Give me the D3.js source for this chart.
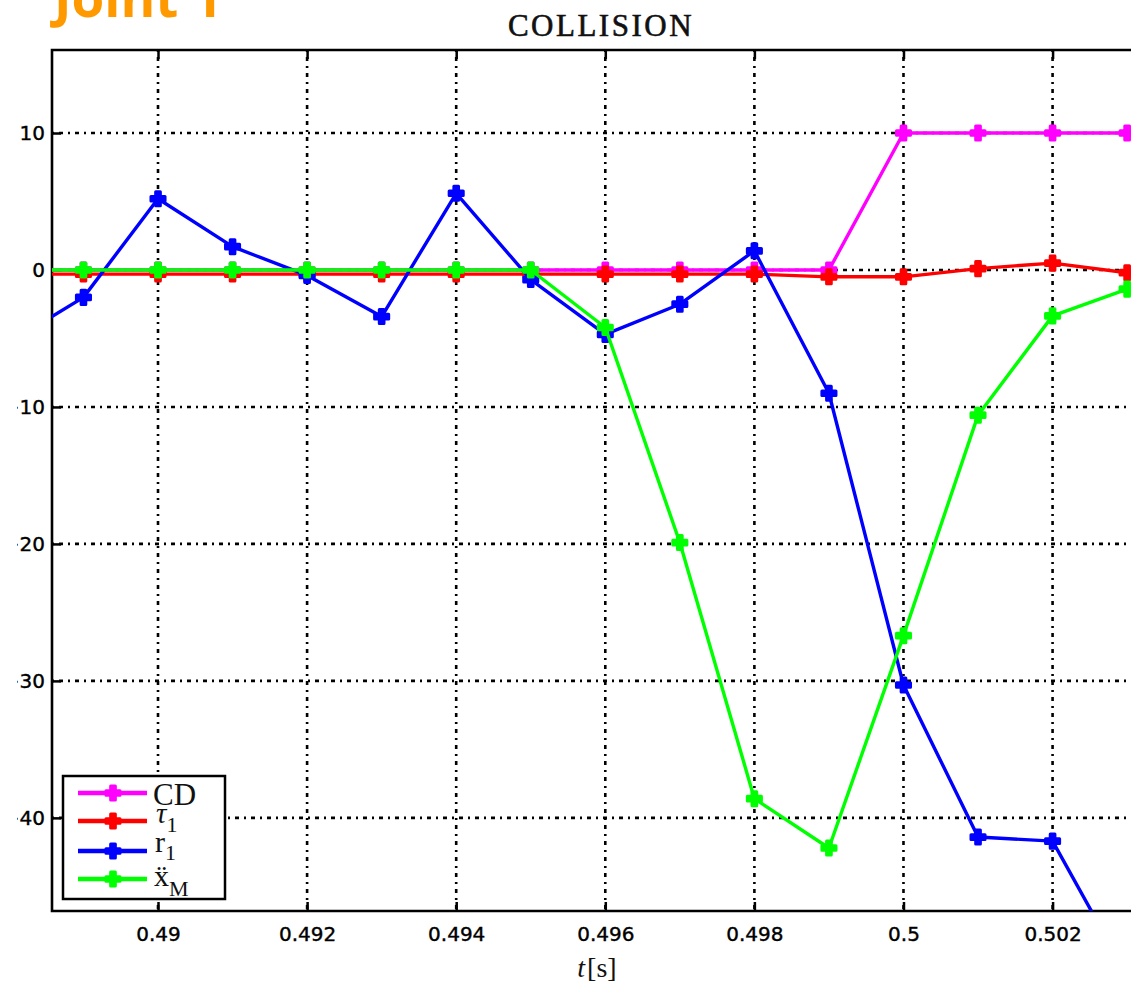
<!DOCTYPE html>
<html><head><meta charset="utf-8">
<script src="https://cdn.jsdelivr.net/npm/d3@7"></script>
<style>html,body{margin:0;padding:0;background:#fff;overflow:hidden}</style>
</head><body>
<script>
const times = [0.488,0.489,0.490,0.491,0.492,0.493,0.494,0.495,0.496,0.497,0.498,0.499,0.500,0.501,0.502,0.503];
const cdValues   = [0,0,0,0,0,0,0,0,0,0,0,0,10,10,10,10];
const tauValues  = [-0.3,-0.3,-0.3,-0.3,-0.3,-0.3,-0.3,-0.3,-0.3,-0.3,-0.3,-0.5,-0.5,0.1,0.5,-0.2];
const rValues    = [-5.3,-2.0,5.2,1.7,-0.4,-3.4,5.6,-0.7,-4.7,-2.5,1.4,-9.0,-30.3,-41.4,-41.7,-51.5];
const xmValues   = [0,0,0,0,0,0,0,0,-4.2,-19.9,-38.6,-42.2,-26.7,-10.6,-3.35,-1.4];
const xTicks = [0.490,0.492,0.494,0.496,0.498,0.500,0.502];
const xTickLabels = ["0.49","0.492","0.494","0.496","0.498","0.5","0.502"];
const yTicks = [10,0,-10,-20,-30,-40];
const yTickLabels = ["10","0","\u221210","\u221220","\u221230","\u221240"];
const seriesNames = ["CD","tau","r","xm"];
const seriesColors = ["#ff00ff","#ff0000","#0000ff","#00ff00"];
const titleText = "COLLISION";
const pageTitle = "Joint 1";

const W = 1131, H = 984;
const L = 52, T = 50, B = 911, R = 1160;
const svg = d3.select("body").append("svg").attr("width",W).attr("height",H);

const x = d3.scaleLinear().domain([0.488578, 0.503441]).range([L, R]);
const y = d3.scaleLinear().domain([-46.8, 16.06]).range([B, T]);

const defs = svg.append("defs");
defs.append("clipPath").attr("id","plotclip").append("rect")
  .attr("x",L).attr("y",T).attr("width",R-L).attr("height",B-T);
defs.append("clipPath").attr("id","labelclip").append("rect")
  .attr("x",17).attr("y",0).attr("width",W).attr("height",H);

// grid
const grid = svg.append("g").attr("clip-path","url(#plotclip)");
grid.selectAll("line.vg").data(xTicks).join("line")
  .attr("x1",d=>x(d)).attr("x2",d=>x(d)).attr("y1",T).attr("y2",B)
  .attr("stroke","#000").attr("stroke-width",2.6).attr("stroke-dasharray","2,5,4,5");
grid.selectAll("line.hg").data(yTicks).join("line")
  .attr("y1",d=>y(d)).attr("y2",d=>y(d)).attr("x1",L).attr("x2",R)
  .attr("stroke","#000").attr("stroke-width",2.6).attr("stroke-dasharray","2,5,4,5");

// axes (inward ticks)
const xAxisB = d3.axisBottom(x).tickValues(xTicks).tickSize(-9).tickFormat((d,i)=>xTickLabels[i]).tickPadding(0);
const gxb = svg.append("g").attr("transform",`translate(0,${B})`).call(xAxisB);
gxb.select(".domain").remove();
gxb.selectAll(".tick line").attr("stroke","#000").attr("stroke-width",2.5);
gxb.selectAll(".tick text").attr("y",16).attr("font-family","DejaVu Sans").attr("font-size",20).attr("fill","#000")
  .attr("stroke","#000").attr("stroke-width",0.4);

const xAxisT = d3.axisTop(x).tickValues(xTicks).tickSize(-9).tickFormat("");
const gxt = svg.append("g").attr("transform",`translate(0,${T})`).call(xAxisT);
gxt.select(".domain").remove();
gxt.selectAll(".tick line").attr("stroke","#000").attr("stroke-width",2.5);

const yWrap = svg.append("g").attr("clip-path","url(#labelclip)");
const yAxisL = d3.axisLeft(y).tickValues(yTicks).tickSize(-9).tickFormat((d,i)=>yTickLabels[i]).tickPadding(0);
const gyl = yWrap.append("g").attr("transform",`translate(${L},0)`).call(yAxisL);
gyl.select(".domain").remove();
gyl.selectAll(".tick line").attr("stroke","#000").attr("stroke-width",2.5);
gyl.selectAll(".tick text").attr("x",-7).attr("font-family","DejaVu Sans").attr("font-size",20).attr("fill","#000")
  .attr("stroke","#000").attr("stroke-width",0.4);

// frame
svg.append("path").attr("d",`M${R},${T}H${L}V${B}H${R}`).attr("fill","none")
  .attr("stroke","#000").attr("stroke-width",2.6);

// data
const allSeries = [cdValues, tauValues, rValues, xmValues];
const data = allSeries.map((vals,si)=>({name:seriesNames[si], color:seriesColors[si], pts:times.map((t,i)=>({t,v:vals[i]}))}));
const line = d3.line().x(d=>x(d.t)).y(d=>y(d.v));
const plot = svg.append("g").attr("clip-path","url(#plotclip)");
const marker = d3.symbol().type(d3.symbolCross).size(110);
data.forEach(s=>{
  const g = plot.append("g");
  g.append("path").attr("d",line(s.pts)).attr("fill","none").attr("stroke",s.color)
    .attr("stroke-width",3.4).attr("stroke-linejoin","round");
  g.selectAll("path.m").data(s.pts).join("path").attr("class","m")
    .attr("d",marker).attr("transform",d=>`translate(${x(d.t)},${y(d.v)})`)
    .attr("fill",s.color).attr("stroke",s.color).attr("stroke-width",3).attr("stroke-linejoin","round");
});

// legend
const lg = svg.append("g");
lg.append("rect").attr("x",63).attr("y",776).attr("width",162).attr("height",123)
  .attr("fill","#fff").attr("stroke","#000").attr("stroke-width",2.5);
const rowsY = [793,821,851,879];
data.forEach((s,i)=>{
  lg.append("line").attr("x1",78).attr("x2",147).attr("y1",rowsY[i]).attr("y2",rowsY[i])
    .attr("stroke",s.color).attr("stroke-width",4.5);
  lg.append("path").attr("d",marker).attr("transform",`translate(113,${rowsY[i]})`)
    .attr("fill",s.color).attr("stroke",s.color).attr("stroke-width",3).attr("stroke-linejoin","round");
});
const lf = "Liberation Serif";
lg.append("text").attr("x",153).attr("y",805).attr("font-family",lf).attr("font-size",31).attr("fill","#111").text("CD");
const t1 = lg.append("text").attr("x",156).attr("y",823).attr("font-family",lf).attr("font-size",29).attr("fill","#111");
t1.append("tspan").attr("font-style","italic").text("\u03c4");
t1.append("tspan").attr("font-size",22).attr("dy",9).text("1");
const t2 = lg.append("text").attr("x",155).attr("y",852).attr("font-family",lf).attr("font-size",30).attr("fill","#111");
t2.append("tspan").text("r");
t2.append("tspan").attr("font-size",22).attr("dy",8).text("1");
const t3 = lg.append("text").attr("x",154).attr("y",886).attr("font-family",lf).attr("font-size",30).attr("fill","#111");
t3.append("tspan").text("\u1e8d");
t3.append("tspan").attr("font-size",22).attr("dy",10).text("M");

// titles
svg.append("text").attr("x",601).attr("y",36).attr("text-anchor","middle")
  .attr("font-family",lf).attr("font-size",31).attr("letter-spacing",2.5).attr("fill","#111")
  .attr("stroke","#111").attr("stroke-width",0.6).text(titleText);
svg.append("text").attr("x",54).attr("y",17).attr("font-family","Open Sans").attr("font-weight",700)
  .attr("font-size",53).attr("fill","#ff9900").text(pageTitle);

// x label
const xl = svg.append("text").attr("x",597).attr("y",977).attr("text-anchor","middle")
  .attr("font-family",lf).attr("font-size",28).attr("fill","#111");
xl.append("tspan").attr("font-style","italic").text("t");
xl.append("tspan").attr("dx",2).text("[s]");
</script>
</body></html>
